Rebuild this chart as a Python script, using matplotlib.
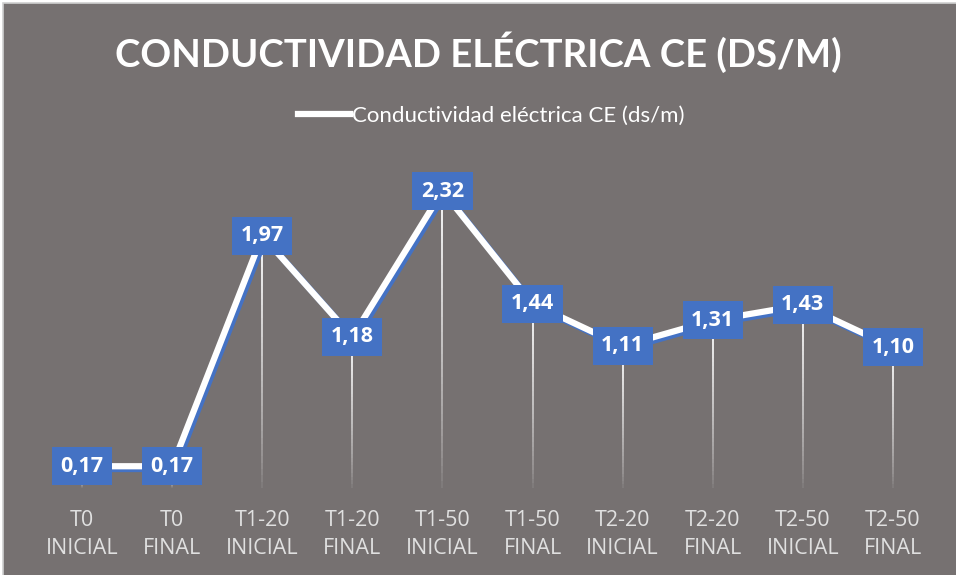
import numpy as np
import matplotlib.pyplot as plt
import matplotlib.patheffects as pe
from matplotlib.patches import Rectangle

# Data
categories = ["T0\nINICIAL", "T0\nFINAL", "T1-20\nINICIAL", "T1-20\nFINAL", "T1-50\nINICIAL",
              "T1-50\nFINAL", "T2-20\nINICIAL", "T2-20\nFINAL", "T2-50\nINICIAL", "T2-50\nFINAL"]
values = [0.17, 0.17, 1.97, 1.18, 2.32, 1.44, 1.11, 1.31, 1.43, 1.10]
series_name = "Conductividad eléctrica CE (ds/m)"
title = "CONDUCTIVIDAD ELÉCTRICA CE (DS/M)"

bg = "#767171"
blue = "#4472C4"
plt.rcParams['font.family'] = ['Lato', 'DejaVu Sans']

fig = plt.figure(figsize=(9.56, 5.75), dpi=100, facecolor="white")
W, H = 956, 575
fig.patches.append(Rectangle((3 / W, -0.01), 1.02, 1 - 3 / H + 0.01, transform=fig.transFigure,
                             facecolor=bg, edgecolor="#D0D0D0", linewidth=1.2, zorder=-5))

ax = fig.add_axes([37 / W, (H - 488) / H, 901 / W, 320 / H])
ax.set_facecolor("none")
x = np.arange(len(values))

# Drop lines fading toward the bottom
n = 40
for xi, v in zip(x, values):
    ys = np.linspace(v, 0, n + 1)
    for k in range(n):
        a = 0.95 * (1 - k / n) ** 0.7
        ax.plot([xi, xi], [ys[k], ys[k + 1]], color="white", lw=1.4, alpha=a,
                solid_capstyle="butt", zorder=1)

line, = ax.plot(x, values, color="white", lw=4.5, zorder=3, label=series_name,
                solid_joinstyle="miter",
                path_effects=[pe.SimpleLineShadow(offset=(2, -2), shadow_color=blue, alpha=1),
                              pe.Normal()])

for xi, v in zip(x, values):
    ax.text(xi, v, f"{v:.2f}".replace(".", ","), ha="center", va="center", color="white",
            fontsize=15.5, fontweight="bold", zorder=5, family=["Open Sans", "DejaVu Sans"],
            bbox=dict(boxstyle="square,pad=0.4", facecolor=blue, edgecolor="none"))

ax.set_xlim(-0.5, len(values) - 0.5)
ax.set_ylim(0, 2.5)
ax.set_yticks([])
ax.set_xticks(x)
ax.set_xticklabels(categories, color="#E0E0E0", fontsize=15.5, linespacing=1.45,
                   family=["Open Sans", "DejaVu Sans"])
ax.tick_params(axis="x", length=0, pad=16)
for s in ax.spines.values():
    s.set_visible(False)

fig.text(0.5, (H - 52) / H, title, ha="center", va="center", color="white",
         fontsize=27.5, fontweight="bold")

leg = fig.legend(handles=[line], loc="center", bbox_to_anchor=(0.514, (H - 116) / H),
                 frameon=False, fontsize=16, handlelength=2.3, handletextpad=0.1)
for t in leg.get_texts():
    t.set_color("white")
leg.legend_handles[0].set_path_effects([pe.Normal()])

fig.savefig("out.png", dpi=100, facecolor=fig.get_facecolor())
